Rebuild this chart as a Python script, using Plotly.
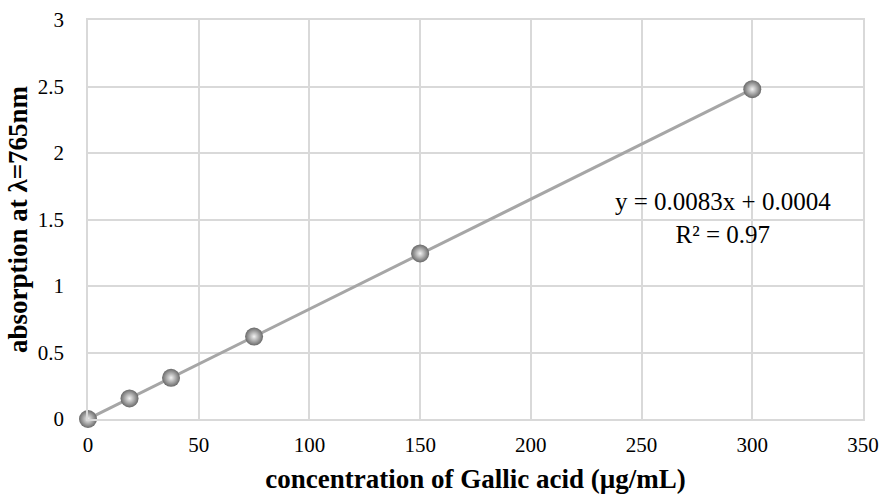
import plotly.graph_objects as go

# Gallic acid calibration standards
concentration = [0, 18.75, 37.5, 75, 150, 300]
absorbance = [0, 0.155, 0.31, 0.62, 1.245, 2.48]

x_ticks = [0, 50, 100, 150, 200, 250, 300, 350]
y_ticks = [0, 0.5, 1, 1.5, 2, 2.5, 3]
y_tick_text = ["0", "0.5", "1", "1.5", "2", "2.5", "3"]

equation_text = "y = 0.0083x + 0.0004"
r2_text = "R² = 0.97"

serif = "Liberation Serif"

fig = go.Figure()
fig.add_trace(go.Scatter(
    x=concentration,
    y=absorbance,
    mode="lines+markers",
    line=dict(color="#a6a6a6", width=3),
    marker=dict(
        size=18,
        color="#696969",
        gradient=dict(type="radial", color="#f2f2f2"),
        line=dict(width=0),
    ),
    showlegend=False,
    cliponaxis=False,
))

fig.add_annotation(
    x=0.819, y=0.505, xref="paper", yref="paper",
    xanchor="center", yanchor="middle",
    text=equation_text + "<br>" + r2_text,
    showarrow=False, align="center",
    font=dict(family=serif, size=25, color="#000000"),
)

fig.update_layout(
    width=881, height=494,
    margin=dict(l=88, r=18, t=20, b=75),
    paper_bgcolor="white", plot_bgcolor="white",
    font=dict(family=serif, size=21, color="#000000"),
    xaxis=dict(
        range=[0, 350], tickvals=x_ticks, automargin=False,
        showgrid=True, gridcolor="#d9d9d9", gridwidth=1.5,
        showline=True, linecolor="#d9d9d9", linewidth=1.5, mirror=True,
        zeroline=False, ticks="", ticklabelstandoff=6,
        tickfont=dict(family=serif, size=21),
        title=dict(text="<b>concentration of Gallic acid (µg/mL)</b>",
                   font=dict(family=serif, size=27), standoff=14),
    ),
    yaxis=dict(
        range=[0, 3], tickvals=y_ticks, ticktext=y_tick_text, automargin=False,
        showgrid=True, gridcolor="#d9d9d9", gridwidth=1.5,
        showline=True, linecolor="#d9d9d9", linewidth=1.5, mirror=True,
        zeroline=False, ticks="", ticklabelstandoff=18,
        tickfont=dict(family=serif, size=21),
        title=dict(text="<b>absorption at λ=765nm</b>",
                   font=dict(family=serif, size=27), standoff=2),
    ),
)

fig.write_html("out.html")
